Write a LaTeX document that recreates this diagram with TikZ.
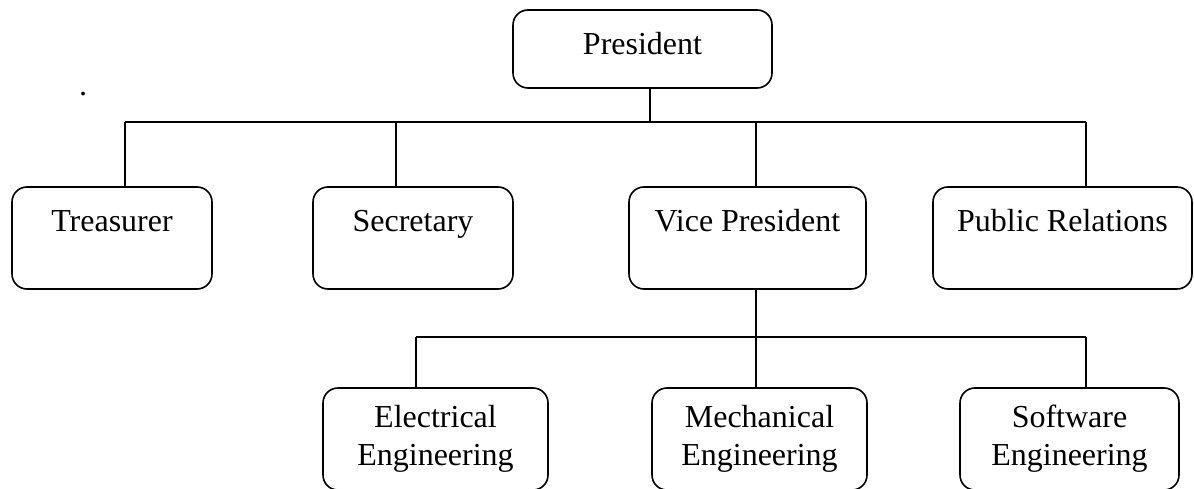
\documentclass[tikz,border=0pt]{standalone}
\usepackage{fontspec}
\setmainfont{Liberation Serif}
\usetikzlibrary{positioning,calc}
\tikzset{
  unit/.style={draw,line width=1.6pt,rounded corners=15pt,inner sep=0pt,
    text height=45pt,text depth=57pt},
  dept/.style={draw,line width=1.6pt,rounded corners=15pt,inner sep=0pt,
    minimum height=102pt,align=center},
  wire/.style={line width=1.6pt}
}

\begin{document}
\begin{tikzpicture}[x=1pt,y=-1pt,font=\fontsize{32}{38}\selectfont]
\useasboundingbox (0,0) rectangle (1194,489);
\clip (0,0) rectangle (1194,489);
% top of the chart
\node[draw,line width=1.6pt,rounded corners=15pt,inner sep=0pt,minimum width=259pt,
  text height=45pt,text depth=33pt] (pres) at (642.5,49) {President};
\node[inner sep=0pt] (dot) at (83,94) {.};
% first row
\node[unit,minimum width=200pt] (treas) at (112,238) {Treasurer};
\node[unit,minimum width=200pt] (secr) at (413,238) {Secretary};
\node[unit,minimum width=237pt] (vp) at (747.5,238) {Vice President};
\node[unit,minimum width=259pt] (pr) at (1062.5,238) {Public Relations};
% second row
\node[dept,minimum width=225pt] (elec) at (435.5,439) {Electrical\\Engineering};
\node[dept,minimum width=215pt] (mech) at (759.5,439) {Mechanical\\Engineering};
\node[dept,minimum width=219pt] (soft) at (1069.5,439) {Software\\Engineering};
% bus lines
\coordinate (tapP) at (650,122);
\coordinate (tapT) at (125,122);
\coordinate (tapS) at (396,122);
\coordinate (tapV) at (756,122);
\coordinate (tapR) at (1086,122);
\coordinate (tapE) at (416,337);
\coordinate (tapM) at (756,337);
\coordinate (tapW) at (1086,337);
\draw[wire] (pres.south -| tapP) -- (tapP);
\draw[wire] (tapT) -- (tapR);
\foreach \n/\t in {treas/tapT,secr/tapS,vp/tapV,pr/tapR}
  \draw[wire] (\t) -- (\t |- \n.north);
\draw[wire] (vp.south -| tapM) -- (tapM |- mech.north);
\draw[wire] (tapE) -- (tapW);
\foreach \n/\t in {elec/tapE,soft/tapW}
  \draw[wire] (\t) -- (\t |- \n.north);
\end{tikzpicture}
\end{document}
